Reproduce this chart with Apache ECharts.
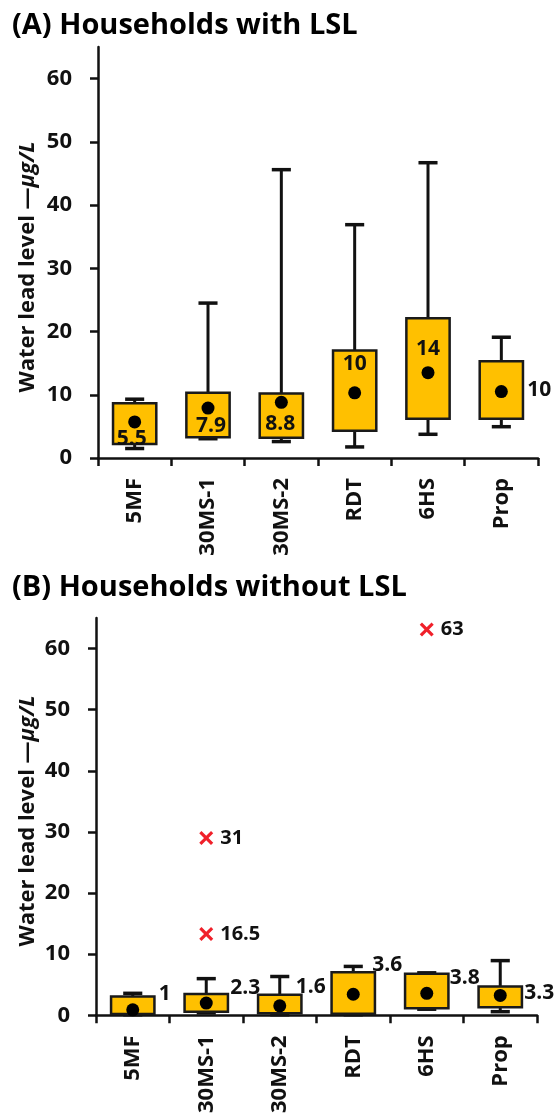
<!DOCTYPE html>
<html>
<head>
<meta charset="utf-8">
<script src="https://cdn.jsdelivr.net/npm/echarts@6/dist/echarts.min.js"></script>
<style>
html,body{margin:0;padding:0;background:#fff;}
#chart{width:557px;height:1116px;}
</style>
</head>
<body>
<div id="chart"></div>
<script>
// ---- data ----
const categories = ['5MF', '30MS-1', '30MS-2', 'RDT', '6HS', 'Prop'];
const yTicks = [0, 10, 20, 30, 40, 50, 60];

// (A) households with LSL
const withMin  = [1.5, 3.05, 2.6, 1.75, 3.75, 4.95];
const withQ1   = [2.2, 3.3, 3.2, 4.3, 6.2, 6.2];
const withQ3   = [8.65, 10.3, 10.2, 17.0, 22.1, 15.3];
const withMax  = [9.3, 24.5, 45.6, 36.9, 46.7, 19.1];
const withMean = [5.7, 7.9, 8.8, 10.3, 13.5, 10.5];
const withMeanLabels = ['5.5', '7.9', '8.8', '10', '14', '10'];

// (B) households without LSL
const woMin  = [0.1, 0.4, 0.1, 0.1, 1.0, 0.6];
const woQ1   = [0.2, 0.57, 0.35, 0.25, 1.17, 1.33];
const woQ3   = [3.07, 3.5, 3.35, 7.05, 6.8, 4.7];
const woMax  = [3.6, 6.0, 6.35, 8.0, 6.95, 8.95];
const woMean = [0.9, 2.0, 1.55, 3.45, 3.6, 3.25];
const woMeanLabels = ['1', '2.3', '1.6', '3.6', '3.8', '3.3'];
const woOutlierCat = [1, 1, 4];
const woOutlierVal = [29.0, 13.3, 63.1];
const woOutlierLabels = ['31', '16.5', '63'];

// ---- styles ----
const FONT = 'Open Sans';
const TXT = '#111';
const withLabelOffsets = [[-3, 17], [3, 18], [-1, 22], [0, -29], [0, -24], [38, -2]];
const woLabelOffsets = [[32, -16], [39, -15], [31, -19], [34, -29], [38, -15], [39, -2]];

const chart = echarts.init(document.getElementById('chart'), null, {renderer: 'canvas'});

function boxRender(params, api) {
  const idx = api.value(0);
  const pMin = api.coord([idx, api.value(1)]);
  const pQ1 = api.coord([idx, api.value(2)]);
  const pQ3 = api.coord([idx, api.value(3)]);
  const pMax = api.coord([idx, api.value(4)]);
  const band = api.size([1, 0])[0];
  const bw = band * 0.59;
  const cw = band * 0.26;
  const x = pQ1[0];
  const line = {stroke: '#111', lineWidth: 3};
  return {
    type: 'group',
    children: [
      {type: 'line', shape: {x1: x, y1: pQ3[1], x2: x, y2: pMax[1]}, style: line},
      {type: 'line', shape: {x1: x - cw / 2, y1: pMax[1], x2: x + cw / 2, y2: pMax[1]}, style: {stroke: '#111', lineWidth: 3.5}},
      {type: 'line', shape: {x1: x, y1: pQ1[1], x2: x, y2: pMin[1]}, style: line},
      {type: 'line', shape: {x1: x - cw / 2, y1: pMin[1], x2: x + cw / 2, y2: pMin[1]}, style: {stroke: '#111', lineWidth: 3.5}},
      {type: 'rect', shape: {x: x - bw / 2, y: pQ3[1], width: bw, height: pQ1[1] - pQ3[1]},
        style: {fill: '#FFC000', stroke: '#1a1a1a', lineWidth: 2.5}}
    ]
  };
}

function boxData(mn, q1, q3, mx) {
  return categories.map((c, i) => [i, mn[i], q1[i], q3[i], mx[i]]);
}
function meanData(vals, labels, offs) {
  return vals.map((v, i) => ({
    value: [i, v],
    label: {formatter: labels[i], offset: offs[i]}
  }));
}

function xAxisCfg(gi) {
  return {
    type: 'category', gridIndex: gi, data: categories, boundaryGap: true,
    axisLine: {lineStyle: {color: '#111', width: 2.5}},
    axisTick: {show: true, length: 8, lineStyle: {color: '#111', width: 2.5}},
    axisLabel: {rotate: 90, margin: 20, color: TXT, fontFamily: FONT, fontWeight: 'bold', fontSize: 22},
    splitLine: {show: false}
  };
}
function yAxisCfg(gi) {
  return {
    type: 'value', gridIndex: gi, min: 0, max: 65, interval: 10,
    axisLine: {show: true, lineStyle: {color: '#111', width: 2.5}},
    axisTick: {show: true, length: 8, customValues: yTicks, lineStyle: {color: '#111', width: 2.5}},
    axisLabel: {margin: 26, customValues: yTicks, color: TXT, fontFamily: FONT, fontWeight: 'bold', fontSize: 22},
    splitLine: {show: false}
  };
}

const labelStyle = {show: true, position: 'inside', color: TXT, fontFamily: FONT, fontWeight: 'bold', fontSize: 21};
const richName = {
  a: {fontFamily: FONT, fontWeight: 'bold', fontSize: 22, fill: TXT, color: TXT},
  b: {fontFamily: FONT, fontWeight: 'bold', fontStyle: 'italic', fontSize: 22, fill: TXT, color: TXT}
};

const option = {
  backgroundColor: '#fff',
  animation: false,
  grid: [
    {left: 98, top: 47, width: 440, height: 411},
    {left: 96, top: 618, width: 441, height: 397.5}
  ],
  xAxis: [xAxisCfg(0), xAxisCfg(1)],
  yAxis: [yAxisCfg(0), yAxisCfg(1)],
  graphic: [
    {type: 'text', x: 12, y: 26, style: {text: '(A) Households with LSL', fill: '#000', font: 'bold 29px "Open Sans"', textVerticalAlign: 'middle'}},
    {type: 'text', x: 12, y: 588, style: {text: '(B) Households without LSL', fill: '#000', font: 'bold 29px "Open Sans"', textVerticalAlign: 'middle'}},
    {type: 'text', x: 28, y: 267, rotation: Math.PI / 2, style: {
      text: '{a|Water lead level —}{b|μg/L}', align: 'center', verticalAlign: 'middle', rich: richName}},
    {type: 'text', x: 28, y: 821, rotation: Math.PI / 2, style: {
      text: '{a|Water lead level —}{b|μg/L}', align: 'center', verticalAlign: 'middle', rich: richName}}
  ],
  series: [
    {type: 'custom', xAxisIndex: 0, yAxisIndex: 0, renderItem: boxRender, encode: {x: 0, y: [1, 2, 3, 4]},
      data: boxData(withMin, withQ1, withQ3, withMax), z: 2},
    {type: 'scatter', xAxisIndex: 0, yAxisIndex: 0, symbol: 'circle', symbolSize: 13,
      itemStyle: {color: '#000', opacity: 1}, label: labelStyle, z: 5,
      data: meanData(withMean, withMeanLabels, withLabelOffsets)},
    {type: 'custom', xAxisIndex: 1, yAxisIndex: 1, renderItem: boxRender, encode: {x: 0, y: [1, 2, 3, 4]},
      data: boxData(woMin, woQ1, woQ3, woMax), z: 2},
    {type: 'scatter', xAxisIndex: 1, yAxisIndex: 1, symbol: 'circle', symbolSize: 13,
      itemStyle: {color: '#000', opacity: 1}, label: labelStyle, z: 5,
      data: meanData(woMean, woMeanLabels, woLabelOffsets)},
    {type: 'scatter', xAxisIndex: 1, yAxisIndex: 1,
      symbol: 'path://M0,1.6L1.6,0L5,3.4L8.4,0L10,1.6L6.6,5L10,8.4L8.4,10L5,6.6L1.6,10L0,8.4L3.4,5Z',
      symbolSize: 14, itemStyle: {color: '#F0202A', opacity: 1}, z: 5,
      label: {show: true, position: 'right', distance: 7, color: TXT, fontFamily: FONT, fontWeight: 'bold', fontSize: 20},
      data: woOutlierVal.map((v, i) => ({value: [woOutlierCat[i], v], label: {formatter: woOutlierLabels[i]}}))}
  ]
};
chart.setOption(option);
</script>
</body>
</html>
